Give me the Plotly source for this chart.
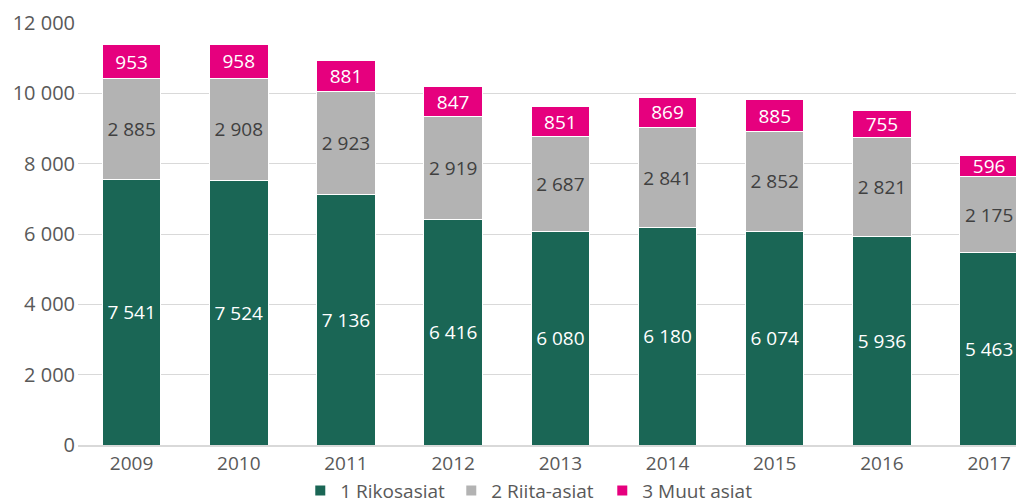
import plotly.graph_objects as go

years = ["2009", "2010", "2011", "2012", "2013", "2014", "2015", "2016", "2017"]
rikos = [7541, 7524, 7136, 6416, 6080, 6180, 6074, 5936, 5463]
riita = [2885, 2908, 2923, 2919, 2687, 2841, 2852, 2821, 2175]
muut = [953, 958, 881, 847, 851, 869, 885, 755, 596]
series_names = ["1 Rikosasiat", "2 Riita-asiat", "3 Muut asiat"]
colors = ["#1a6655", "#b3b3b3", "#e6007e"]
text_colors = ["white", "#404040", "white"]

fig = go.Figure()
for name, vals, c, tc in zip(series_names, [rikos, riita, muut], colors, text_colors):
    fig.add_trace(go.Bar(
        x=years, y=vals, name=name,
        marker=dict(color=c, line=dict(color="white", width=1)),
        texttemplate="%{y:,}", textposition="inside", insidetextanchor="middle",
        textfont=dict(color=tc, size=19, family="Open Sans"),
        textangle=0, constraintext="none",
    ))

fig.update_layout(
    barmode="stack", bargap=0.455,
    width=1024, height=504,
    margin=dict(l=70, r=0, t=15, b=67, autoexpand=False),
    paper_bgcolor="white", plot_bgcolor="white",
    separators=", ",
    font=dict(family="Open Sans", color="#595959", size=18),
    legend=dict(orientation="h", x=0.233, xanchor="left", y=-0.108, yanchor="middle",
                font=dict(size=19, color="#595959"), traceorder="normal",
                itemsizing="constant", entrywidth=106, entrywidthmode="pixels"),
    xaxis=dict(range=[-0.5, 8.4], showgrid=False, showline=True, linecolor="#d9d9d9",
               linewidth=1.5, ticks="", tickfont=dict(size=19, color="#595959")),
    yaxis=dict(range=[0, 12000], dtick=2000, tickformat=",", showgrid=True,
               gridcolor="#d9d9d9", gridwidth=1, zeroline=False, ticks="",
               ticklen=0, tickfont=dict(size=20, color="#595959")),
)
fig.update_yaxes(ticklabelstandoff=2)
fig.write_html("out.html")
